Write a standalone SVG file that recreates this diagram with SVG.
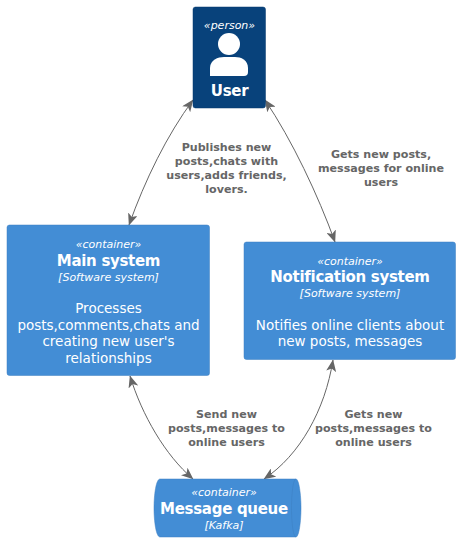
<svg xmlns="http://www.w3.org/2000/svg" width="460" height="542" viewBox="0 0 460 542">
<style>
text{font-family:"DejaVu Sans",Verdana,sans-serif;text-anchor:middle}
.s{font-size:11px;font-style:italic;fill:#fff}
.t{font-size:15px;font-weight:bold;fill:#fff;letter-spacing:-.3px}
.d{font-size:13.5px;fill:#fff}
.l{font-size:11.1px;font-weight:bold;fill:#666}
.c{fill:none;stroke:#666;stroke-width:1}
.box{fill:#438DD5;stroke:#3C7FC0;stroke-width:.5}
</style>
<defs>
<marker id="a" viewBox="0 0 12 10" refX="11.5" refY="5" markerWidth="12" markerHeight="10" orient="auto-start-reverse" markerUnits="userSpaceOnUse"><path d="M0 0L12 5L0 10L3 5Z" fill="#666"/></marker>
</defs>
<rect width="460" height="542" fill="#fff"/>
<g id="connectors">
<path class="c" d="M193 100C167 135 145 180 129 225" marker-start="url(#a)" marker-end="url(#a)"/>
<path class="c" d="M265 100C292 140 318 195 335 242" marker-start="url(#a)" marker-end="url(#a)"/>
<path class="c" d="M130 376C142 415 165 455 193 479" marker-start="url(#a)" marker-end="url(#a)"/>
<path class="c" d="M333 360C325 410 300 455 264 479" marker-start="url(#a)" marker-end="url(#a)"/>
<text class="l" x="226.500" y="150.500">Publishes new</text>
<text class="l" x="226.500" y="164.500">posts,chats with</text>
<text class="l" x="226.500" y="178.500">users,adds friends,</text>
<text class="l" x="226.500" y="192.500">lovers.</text>
<text class="l" x="381" y="158">Gets new posts,</text>
<text class="l" x="381" y="172">messages for online</text>
<text class="l" x="381" y="186">users</text>
<text class="l" x="226.500" y="418">Send new</text>
<text class="l" x="226.500" y="432">posts,messages to</text>
<text class="l" x="226.500" y="446">online users</text>
<text class="l" x="373.500" y="418">Gets new</text>
<text class="l" x="373.500" y="432">posts,messages to</text>
<text class="l" x="373.500" y="446">online users</text>
</g>
<g id="user">
<rect x="193" y="7" width="72.5" height="101" rx="2.5" fill="#08427B" stroke="#073B6F" stroke-width=".5"/>
<text class="s" x="229.500" y="29">«person»</text>
<circle cx="229" cy="44" r="11" fill="#fff"/>
<path d="M210 76V68C210 60 218 57 224 57H235C241 57 248 60 248 68V72Q248 76 244 76Z" fill="#fff"/>
<text class="t" x="229.500" y="96">User</text>
</g>
<g id="main-system">
<rect class="box" x="7" y="225" width="202.500" height="150.500" rx="2.500"/>
<text class="s" x="108.500" y="248">«container»</text>
<text class="t" x="108.500" y="266">Main system</text>
<text class="s" x="108.500" y="281">[Software system]</text>
<text class="d" x="108.500" y="313">Processes</text>
<text class="d" x="108.500" y="330">posts,comments,chats and</text>
<text class="d" x="108.500" y="346">creating new user's</text>
<text class="d" x="108.500" y="363">relationships</text>
</g>
<g id="notification-system">
<rect class="box" x="244" y="242" width="211.500" height="117.500" rx="2.500"/>
<text class="s" x="350" y="265">«container»</text>
<text class="t" x="350" y="282">Notification system</text>
<text class="s" x="350" y="297">[Software system]</text>
<text class="d" x="350" y="330">Notifies online clients about</text>
<text class="d" x="350" y="346">new posts, messages</text>
</g>
<g id="message-queue">
<path class="box" d="M160 479H296C299 479 301 495 301 508C301 521 299 537 296 537H160C156 537 154 521 154 508C154 495 156 479 160 479Z"/>
<path d="M296 479C293 479 291.500 495 291.500 508C291.500 521 293 537 296 537" fill="none" stroke="#3C7FC0" stroke-width=".5"/>
<text class="s" x="224" y="496">«container»</text>
<text class="t" x="224" y="514">Message queue</text>
<text class="s" x="224" y="529">[Kafka]</text>
</g>
</svg>
